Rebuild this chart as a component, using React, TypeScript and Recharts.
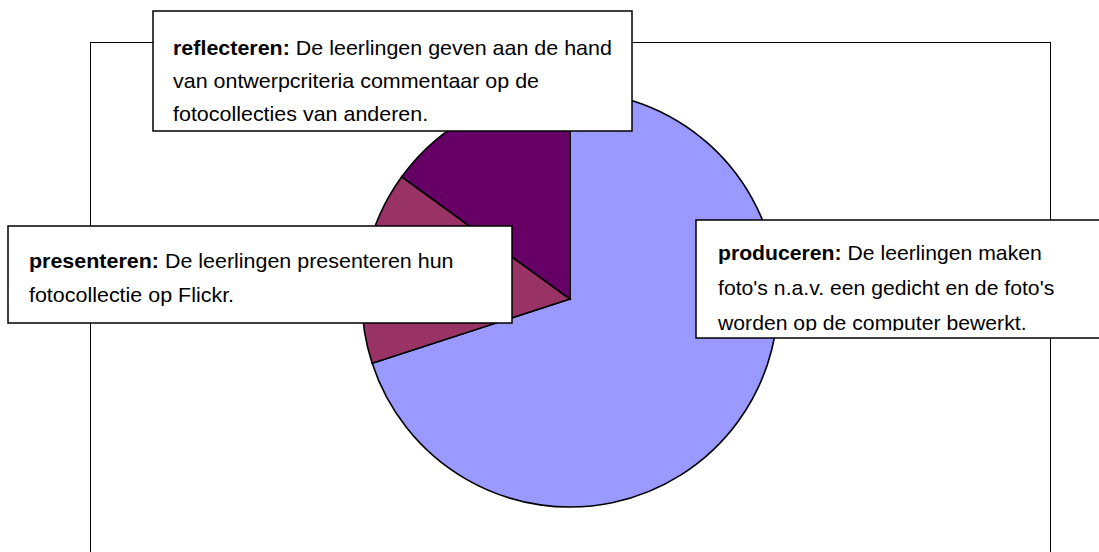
import React from 'react';
import { PieChart, Pie, Cell, Customized } from 'recharts';

const names = ['produceren', 'presenteren', 'reflecteren'];
const values = [70, 15, 15];
const colors = ['#9999FF', '#993366', '#660066'];
const descriptions = [
  ["De leerlingen maken", "foto's n.a.v. een gedicht en de foto's", 'worden op de computer bewerkt.'],
  ['De leerlingen presenteren hun', 'fotocollectie op Flickr.'],
  ['De leerlingen geven aan de hand', 'van ontwerpcriteria commentaar op de', 'fotocollecties van anderen.'],
];

const data = names.map((name, i) => ({ name, value: values[i] }));

const FONT = '"Liberation Sans", Arial, sans-serif';
const FS = 20;

const boxes = [
  { x: 696, y: 220, w: 420, h: 118, tx: 718, ty: [260, 295, 330], clipH: 111, sx: 1.06 },
  { x: 8, y: 226, w: 504, h: 97, tx: 29, ty: [268, 302], clipH: 97, sx: 1.073 },
  { x: 153, y: 11, w: 479, h: 120, tx: 173, ty: [55, 88, 121], clipH: 120, sx: 1.073 },
];

const Frame = () => (
  <rect x={90.5} y={42.5} width={960} height={540} fill="none" stroke="#000" strokeWidth={1} />
);

const Boxes = () => (
  <svg width={1099} height={552} style={{ position: 'absolute', left: 0, top: 0 }}>
    <defs>
      {boxes.map((b, i) => (
        <clipPath id={`clip${i}`} key={i}>
          <rect x={b.x} y={b.y} width={b.w} height={b.clipH} />
        </clipPath>
      ))}
    </defs>
    {boxes.map((b, i) => (
      <g key={i}>
        <rect x={b.x} y={b.y} width={b.w} height={b.h} fill="#fff" stroke="#000" strokeWidth={1.5} />
        <g clipPath={`url(#clip${i})`}>
          <g transform={`translate(${b.tx},0) scale(${b.sx},1) translate(${-b.tx},0)`}>
            {descriptions[i].map((line, j) => (
              <text key={j} x={b.tx} y={b.ty[j]} fontFamily={FONT} fontSize={FS} fill="#000">
                {j === 0 ? (
                  <>
                    <tspan fontWeight="bold">{names[i]}:</tspan>
                    <tspan> {line}</tspan>
                  </>
                ) : (
                  line
                )}
              </text>
            ))}
          </g>
        </g>
      </g>
    ))}
  </svg>
);

export default function App() {
  return (
    <div style={{ position: 'absolute', left: 0, top: 0, width: 1099, height: 552, overflow: 'hidden', background: '#fff' }}>
      <PieChart width={1099} height={552} margin={{ top: 0, right: 0, bottom: 0, left: 0 }}>
        <Customized component={Frame} />
        <Pie
          data={data}
          dataKey="value"
          nameKey="name"
          cx={570}
          cy={299}
          outerRadius={208}
          innerRadius={0}
          startAngle={90}
          endAngle={-270}
          stroke="#000"
          strokeWidth={1.6}
          isAnimationActive={false}
          label={false}
          labelLine={false}
        >
          {data.map((d, i) => (
            <Cell key={d.name} fill={colors[i]} />
          ))}
        </Pie>
      </PieChart>
      <Boxes />
    </div>
  );
}
